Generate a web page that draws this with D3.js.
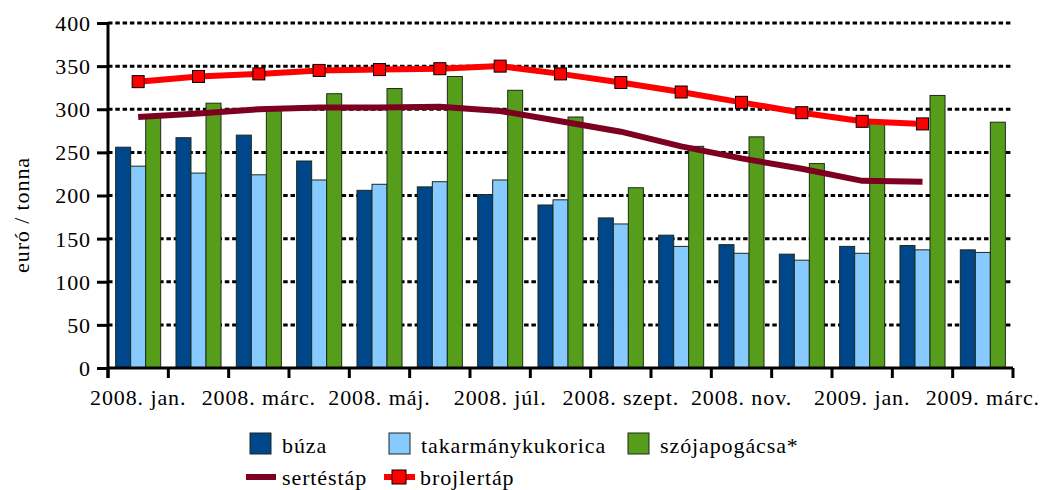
<!DOCTYPE html>
<html>
<head>
<meta charset="utf-8">
<script src="https://cdn.jsdelivr.net/npm/d3@7"></script>
<style>
  body { margin: 0; background: #fff; }
  svg text { font-family: 'Liberation Serif', 'Times New Roman', 'DejaVu Serif', serif !important; fill: #000; letter-spacing: 0.9px; }
</style>
</head>
<body>
<div id="chart-area"></div>
<script>
// Monthly feed prices, euro / tonne
var months = ["2008. jan.", "2008. febr.", "2008. márc.", "2008. ápr.", "2008. máj.", "2008. jún.",
	"2008. júl.", "2008. aug.", "2008. szept.", "2008. okt.", "2008. nov.", "2008. dec.",
	"2009. jan.", "2009. febr.", "2009. márc."];
var shownLabels = ["2008. jan.", "2008. márc.", "2008. máj.", "2008. júl.", "2008. szept.", "2008. nov.", "2009. jan.", "2009. márc."];

var buza = [256, 267, 270, 240, 206, 210, 201, 189, 174, 154, 143, 132, 141, 142, 137];
var kukorica = [234, 226, 224, 218, 213, 216, 218, 195, 167, 141, 133, 125, 133, 137, 134];
var szoja = [293, 307, 300, 318, 324, 338, 322, 291, 209, 257, 268, 237, 286, 316, 285];
var sertes = [291, 295, 300, 302, 302, 303, 298, 286, 274, 257, 243, 231, 217, 216];
var brojler = [332, 338, 341, 345, 346, 347, 350, 341, 331, 320, 308, 296, 286, 283];
var yTicks = [0, 50, 100, 150, 200, 250, 300, 350, 400];

var barSeries = [
	{ name: "búza", values: buza, color: "#00468B" },
	{ name: "takarmánykukorica", values: kukorica, color: "#87CAFF" },
	{ name: "szójapogácsa*", values: szoja, color: "#579D1C" }
];

var fontFamily = "'Liberation Serif', 'Times New Roman', 'DejaVu Serif', serif";
var fontSize = "22px";

var margin = { left: 108, right: 28, top: 23, bottom: 122 };
var width = 1041 - margin.left - margin.right;
var height = 490 - margin.top - margin.bottom;

var svg = d3.select("#chart-area")
	.append("svg")
		.attr("width", 1041)
		.attr("height", 490)
		.attr("font-family", fontFamily);

var g = svg.append("g")
	.attr("transform", "translate(" + margin.left + "," + margin.top + ")");

var x = d3.scaleBand()
	.domain(months)
	.range([0, width]);

// bars inside a month
var x1 = d3.scaleBand()
	.domain(barSeries.map(function(s){ return s.name; }))
	.range([0, x.bandwidth()])
	.paddingOuter(0.51);

var y = d3.scaleLinear()
	.domain([0, 400])
	.range([height, 0]);

// dotted gridlines
g.append("g")
	.selectAll("line")
	.data(yTicks.filter(function(d){ return d > 0; }))
	.enter().append("line")
		.attr("x1", 0)
		.attr("x2", width)
		.attr("y1", function(d){ return y(d); })
		.attr("y2", function(d){ return y(d); })
		.attr("stroke", "#000")
		.attr("stroke-width", 3)
		.attr("stroke-dasharray", "4.5,2.8");

// bars
barSeries.forEach(function(s){
	g.append("g")
		.selectAll("rect")
		.data(s.values)
		.enter().append("rect")
			.attr("x", function(d, i){ return x(months[i]) + x1(s.name); })
			.attr("y", function(d){ return y(d); })
			.attr("width", x1.bandwidth())
			.attr("height", function(d){ return height - y(d); })
			.attr("fill", s.color)
			.attr("stroke", "#1b2a1b")
			.attr("stroke-width", 1);
});

// lines
var line = d3.line()
	.x(function(d, i){ return x(months[i]) + x.bandwidth() / 2; })
	.y(function(d){ return y(d); });

g.append("path")
	.datum(sertes)
	.attr("d", line)
	.attr("fill", "none")
	.attr("stroke", "#7E0021")
	.attr("stroke-width", 6);

g.append("path")
	.datum(brojler)
	.attr("d", line)
	.attr("fill", "none")
	.attr("stroke", "#FF0000")
	.attr("stroke-width", 6);

g.append("g")
	.selectAll("rect")
	.data(brojler)
	.enter().append("rect")
		.attr("x", function(d, i){ return x(months[i]) + x.bandwidth() / 2 - 6; })
		.attr("y", function(d){ return y(d) - 6; })
		.attr("width", 12)
		.attr("height", 12)
		.attr("fill", "#FF0000")
		.attr("stroke", "#000")
		.attr("stroke-width", 1);

// axes
var yAxisCall = d3.axisLeft(y)
	.tickValues(yTicks)
	.tickSize(11)
	.tickPadding(6);
var yAxisGroup = g.append("g").call(yAxisCall).attr("font-family", fontFamily);
yAxisGroup.select(".domain").attr("stroke-width", 3).attr("d", "M0," + (height + 10) + "V0");
yAxisGroup.selectAll(".tick line").attr("stroke-width", 3);
yAxisGroup.selectAll("text").style("font-size", fontSize).attr("dy", "0.34em");

var xAxisCall = d3.axisBottom(x)
	.tickSize(0)
	.tickPadding(37)
	.tickFormat(function(d){ return shownLabels.indexOf(d) >= 0 ? d : ""; });
var xAxisGroup = g.append("g")
	.attr("transform", "translate(0," + height + ")")
	.call(xAxisCall)
	.attr("font-family", fontFamily);
xAxisGroup.select(".domain").attr("stroke-width", 3).attr("d", "M0,0H" + width);
xAxisGroup.selectAll("text").style("font-size", fontSize).attr("dy", "0");

// month boundary ticks
xAxisGroup.append("g")
	.selectAll("line")
	.data(months.concat(["end"]))
	.enter().append("line")
		.attr("x1", function(d, i){ return i < months.length ? x(d) : width; })
		.attr("x2", function(d, i){ return i < months.length ? x(d) : width; })
		.attr("y1", 0)
		.attr("y2", 10)
		.attr("stroke", "#000")
		.attr("stroke-width", 3);

// y axis label
svg.append("text")
	.attr("transform", "translate(29,215) rotate(-90)")
	.attr("text-anchor", "middle")
	.style("font-size", fontSize)
	.text("euró / tonna");

// legend
var legend = svg.append("g");
var legendBars = [
	{ x: 250, s: barSeries[0] },
	{ x: 389, s: barSeries[1] },
	{ x: 628, s: barSeries[2] }
];
legendBars.forEach(function(l){
	legend.append("rect")
		.attr("x", l.x).attr("y", 433)
		.attr("width", 21).attr("height", 21)
		.attr("fill", l.s.color)
		.attr("stroke", "#1b2a1b").attr("stroke-width", 1);
	legend.append("text")
		.attr("x", l.x + 32).attr("y", 453)
		.style("font-size", fontSize)
		.text(l.s.name);
});

legend.append("line")
	.attr("x1", 246).attr("x2", 276).attr("y1", 477).attr("y2", 477)
	.attr("stroke", "#7E0021").attr("stroke-width", 6);
legend.append("text")
	.attr("x", 282).attr("y", 485)
	.style("font-size", fontSize)
	.text("sertéstáp");

legend.append("line")
	.attr("x1", 384).attr("x2", 415).attr("y1", 477).attr("y2", 477)
	.attr("stroke", "#FF0000").attr("stroke-width", 6);
legend.append("rect")
	.attr("x", 392).attr("y", 470).attr("width", 14).attr("height", 14)
	.attr("fill", "#FF0000").attr("stroke", "#000").attr("stroke-width", 1);
legend.append("text")
	.attr("x", 420).attr("y", 485)
	.style("font-size", fontSize)
	.text("brojlertáp");
</script>
</body>
</html>
